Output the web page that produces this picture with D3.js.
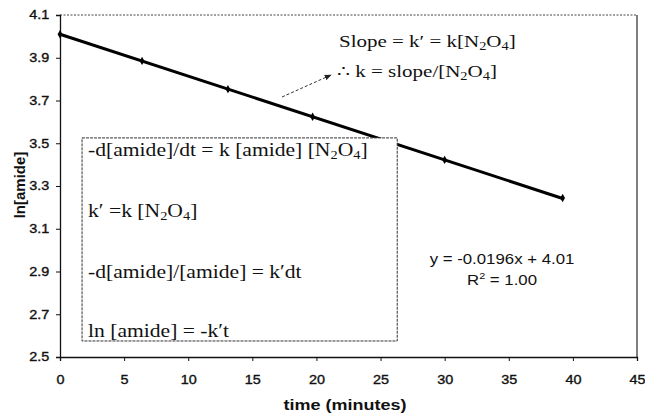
<!DOCTYPE html>
<html lang="en">
<head>
    <meta charset="UTF-8">
    <title>ln[amide] vs time</title>
    <script src="https://cdn.jsdelivr.net/npm/d3@7/dist/d3.min.js"></script>
    <style>
        body { margin: 0; background: #fff; }
        .tick text { font-family: Arial, "Liberation Sans", sans-serif; font-size: 12px; fill: #111; stroke: #111; stroke-width: 0.35; }
        .serif { font-family: "Times New Roman", "Liberation Serif", serif; fill: #111; }
        .sans { font-family: Arial, "Liberation Sans", sans-serif; fill: #111; }
    </style>
</head>
<body>
<div id="chart"></div>
<script>
    // data
    const times = [0, 6.4, 13.1, 19.7, 30.0, 39.2];
    const lnAmide = [4.01, 3.885, 3.753, 3.624, 3.422, 3.244];
    const xTicks = [0, 5, 10, 15, 20, 25, 30, 35, 40, 45];
    const yTicks = [2.5, 2.7, 2.9, 3.1, 3.3, 3.5, 3.7, 3.9, 4.1];
    const slope = -0.0196, intercept = 4.01;
    const boxLines = [
        ["-d[amide]/dt = k [amide] [N", "2", "O", "4", "]"],
        ["k\u2032 =k [N", "2", "O", "4", "]"],
        ["-d[amide]/[amide] = k\u2032dt"],
        ["ln [amide] = -k\u2032t"]
    ];

    const width = 645, height = 418;
    const margin = { top: 15, right: 8, bottom: 61, left: 60 };
    const sx = 1.2; // the scan is a bit wider than tall

    const svg = d3.select('#chart').append('svg')
        .attr('width', width)
        .attr('height', height);

    const x = d3.scaleLinear().domain([0, 45]).range([margin.left, width - margin.right]);
    const y = d3.scaleLinear().domain([2.5, 4.1]).range([height - margin.bottom, margin.top]);

    // text placed at (px,py), stretched horizontally
    function label(px, py, cls, size, anchor) {
        return svg.append('g')
            .attr('transform', `translate(${px},${py}) scale(${sx},1)`)
            .append('text')
            .attr('class', cls)
            .attr('font-size', size)
            .attr('text-anchor', anchor || 'start');
    }

    function appendParts(t, parts, subSize) {
        parts.forEach((p, j) => {
            const ts = t.append('tspan').text(p);
            if (j === 1 || j === 3) ts.attr('font-size', subSize).attr('dy', 3);
            else if (j > 1) ts.attr('dy', -3);
        });
    }

    // plot frame: dotted top, grey right
    svg.append('line')
        .attr('x1', x(0)).attr('x2', x(45)).attr('y1', y(4.1)).attr('y2', y(4.1))
        .attr('stroke', '#444').attr('stroke-dasharray', '2,1.5');
    svg.append('line')
        .attr('x1', x(45)).attr('x2', x(45)).attr('y1', y(4.1)).attr('y2', y(2.5))
        .attr('stroke', '#555').attr('stroke-width', 1.5);

    // axes
    const xAxis = svg.append('g')
        .attr('transform', `translate(0,${y(2.5)})`)
        .call(d3.axisBottom(x).tickValues(xTicks).tickSize(4).tickPadding(14));
    const yAxis = svg.append('g')
        .attr('transform', `translate(${x(0)},0)`)
        .call(d3.axisLeft(y).tickValues(yTicks).tickSize(4).tickPadding(5).tickFormat(d3.format('.1f')));
    [xAxis, yAxis].forEach(g => {
        g.select('.domain').attr('stroke', '#111').attr('stroke-width', 1.3);
        g.selectAll('.tick line').attr('stroke', '#111');
        g.selectAll('.tick text').attr('transform', `scale(${sx},1)`);
    });

    // fitted line and points
    svg.append('line')
        .attr('x1', x(times[0])).attr('y1', y(slope * times[0] + intercept))
        .attr('x2', x(times[times.length - 1])).attr('y2', y(slope * times[times.length - 1] + intercept))
        .attr('stroke', '#000').attr('stroke-width', 3);
    svg.selectAll('.pt').data(times).enter().append('path')
        .attr('class', 'pt')
        .attr('d', d3.symbol(d3.symbolDiamond, 20))
        .attr('transform', (d, i) => `translate(${x(d)},${y(lnAmide[i])})`)
        .attr('fill', '#000');

    // text box, drawn over the line
    const box = { x0: 1.72, x1: 26.3, y0: 3.525, y1: 2.575 };
    svg.append('rect')
        .attr('x', x(box.x0)).attr('y', y(box.y0))
        .attr('width', x(box.x1) - x(box.x0))
        .attr('height', y(box.y1) - y(box.y0))
        .attr('fill', '#fff')
        .attr('stroke', '#333').attr('stroke-width', 1)
        .attr('stroke-dasharray', '3,1');

    const lineYs = [156, 217, 278, 337];
    boxLines.forEach((parts, i) => {
        const t = label(x(box.x0) + 6, lineYs[i], 'serif', 18);
        appendParts(t, parts, 12);
    });

    // annotation
    appendParts(label(339, 47, 'serif', 17.5), ["Slope = k\u2032 = k[N", "2", "O", "4", "]"], 12);
    appendParts(label(337, 77, 'serif', 17.5), ["\u2234 k = slope/[N", "2", "O", "4", "]"], 12);

    svg.append('defs').append('marker')
        .attr('id', 'arr').attr('viewBox', '0 0 10 10')
        .attr('refX', 9).attr('refY', 5)
        .attr('markerWidth', 7).attr('markerHeight', 7)
        .attr('orient', 'auto')
        .append('path').attr('d', 'M0,1 L10,5 L0,9 Z').attr('fill', '#222');
    svg.append('line')
        .attr('x1', 282).attr('y1', 97).attr('x2', 331).attr('y2', 75)
        .attr('stroke', '#333').attr('stroke-dasharray', '3,2')
        .attr('marker-end', 'url(#arr)');

    // trendline equation
    label(502, 264, 'sans', 14, 'middle').text('y = -0.0196x + 4.01');
    const r2 = label(502, 285, 'sans', 14, 'middle');
    r2.append('tspan').text('R');
    r2.append('tspan').text('2').attr('font-size', 9).attr('dy', -6);
    r2.append('tspan').text(' = 1.00').attr('dy', 6);

    // axis titles
    label(345, 410, 'sans', 15, 'middle').attr('font-weight', 'bold').text('time (minutes)');
    svg.append('text')
        .attr('class', 'sans')
        .attr('transform', 'translate(25,185) rotate(-90)')
        .attr('text-anchor', 'middle')
        .attr('font-size', 15).attr('font-weight', 'bold')
        .text('ln[amide]');
</script>
</body>
</html>
